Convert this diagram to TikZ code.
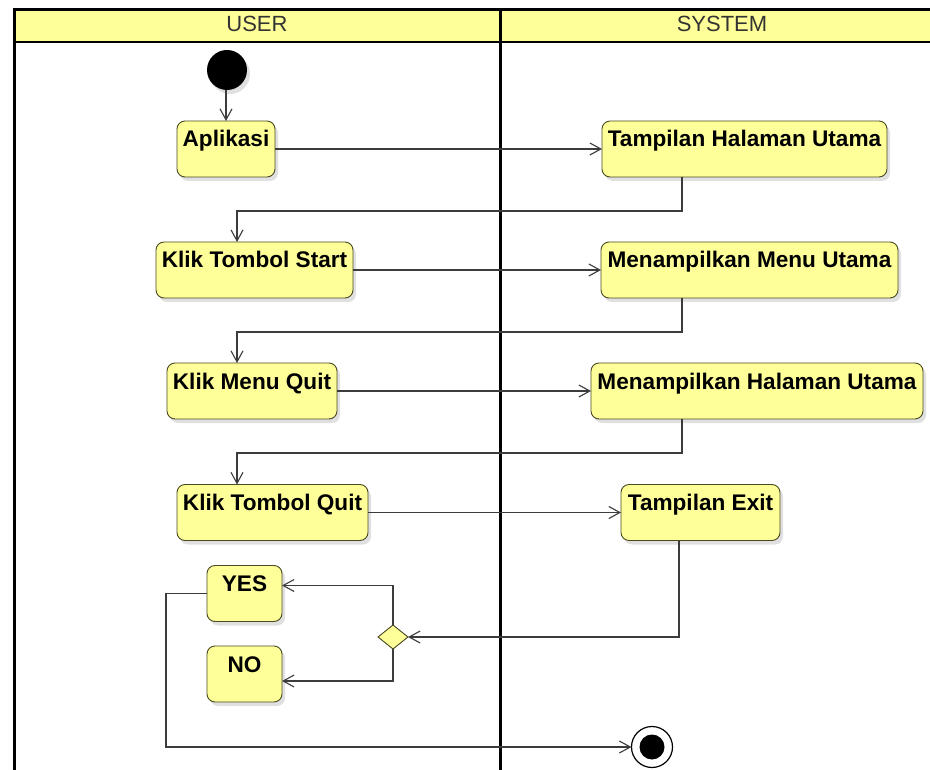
\documentclass[tikz,border=0pt]{standalone}
\usepackage{fontspec}
\setmainfont{Liberation Sans}
\usetikzlibrary{arrows.meta,shapes.geometric,shadows,calc}

\definecolor{lanefill}{HTML}{FFFF99}
\definecolor{boxfill}{HTML}{FFFF99}
\definecolor{boxline}{HTML}{4A4A22}
\definecolor{wire}{HTML}{3C3C3C}
\definecolor{headtext}{HTML}{333333}

\begin{document}
\begin{tikzpicture}[x=1pt,y=-1pt,
  frameline/.style={line width=3pt,black},
  lanehead/.style={font=\fontsize{22}{26}\selectfont, text=headtext, anchor=base, inner sep=0pt},
  activity/.style={draw=boxline, fill=boxfill, line width=0.9pt, rounded corners=8pt,
    inner sep=0pt, outer sep=0pt, text height=26pt, text depth=30pt,
    font=\bfseries\fontsize{22.6}{26}\selectfont,
    drop shadow={shadow xshift=3pt, shadow yshift=-4pt, opacity=0.12, fill=black}},
  decision/.style={shape=diamond, draw=boxline, fill=boxfill, line width=0.9pt,
    minimum width=30pt, minimum height=24pt, inner sep=0pt, outer sep=0pt},
  startnode/.style={circle, fill=black, minimum size=40pt, inner sep=0pt, outer sep=0pt,
    drop shadow={shadow xshift=3pt, shadow yshift=-4pt, opacity=0.12, fill=black}},
  endnode/.style={circle, draw=black, fill=white, line width=1.2pt, minimum size=41pt,
    inner sep=0pt, outer sep=0pt},
  flow/.style={draw=wire, line width=1.1pt, -{Straight Barb[length=11pt,width=12pt,line width=1.1pt]}}
]
\useasboundingbox[fill=white] (0,0) rectangle (930,770);

% swimlane frame with its header band
\begin{scope}
  \clip (0,0) rectangle (930,770);
  \fill[lanefill] (14,10) rectangle (960,42);
  \draw[frameline] (14,790) -- (14,10) -- (960,10);
  \draw[line width=2.5pt,black] (14,42) -- (960,42);
  \draw[frameline] (500,10) -- (500,790);
\end{scope}
\node[lanehead] (userhead) at (257,32) {USER};
\node[lanehead] (systemhead) at (722,32) {SYSTEM};

% activities
\node[startnode] (start) at (227,70) {};
\node[activity, minimum width=98pt]  (ap)  at (226,149)   {Aplikasi};
\node[activity, minimum width=285pt] (thu) at (744.5,149) {Tampilan Halaman Utama};
\node[activity, minimum width=197pt] (kts) at (254.5,270) {Klik Tombol Start};
\node[activity, minimum width=297pt] (mmu) at (749.5,270) {Menampilkan Menu Utama};
\node[activity, minimum width=170pt] (kmq) at (252,391)   {Klik Menu Quit};
\node[activity, minimum width=332pt] (mhu) at (757,391)   {Menampilkan Halaman Utama};
\node[activity, minimum width=191pt] (ktq) at (272.5,512.5) {Klik Tombol Quit};
\node[activity, minimum width=159pt] (te)  at (700.5,512.5) {Tampilan Exit};
\node[activity, minimum width=75pt]  (yes) at (244.5,593.5) {YES};
\node[activity, minimum width=75pt]  (no)  at (244.5,674)   {NO};
\node[decision] (dec) at (393,637) {};
\node[endnode] (end) at (652,747) {};
\fill[black] (end.center) circle (12.5pt);

% drop points of the return connectors
\coordinate (sysdrop) at (682,0);
\coordinate (exitdrop) at (679,0);
\coordinate (userdrop) at (237,0);

% control flow
\draw[flow] (start.south -| ap.north) -- (ap.north);
\draw[flow] (ap.east) -- (thu.west);
\draw[flow] (thu.south -| sysdrop) -- ++(0,34) -| (kts.north -| userdrop);
\draw[flow] (kts.east) -- (mmu.west);
\draw[flow] (mmu.south -| sysdrop) -- ++(0,34) -| (kmq.north -| userdrop);
\draw[flow] (kmq.east) -- (mhu.west);
\draw[flow] (mhu.south -| sysdrop) -- ++(0,34) -| (ktq.north -| userdrop);
\draw[flow] (ktq.east) -- (te.west);
\draw[flow] (te.south -| exitdrop) |- (dec.east);
\draw[flow] (dec.north) |- ($(yes.north east)+(0,20)$);
\draw[flow] (dec.south) |- ($(no.north east)+(0,35)$);
\draw[flow] (yes.west) -- ++(-41,0) |- (end.west);
\end{tikzpicture}
\end{document}
